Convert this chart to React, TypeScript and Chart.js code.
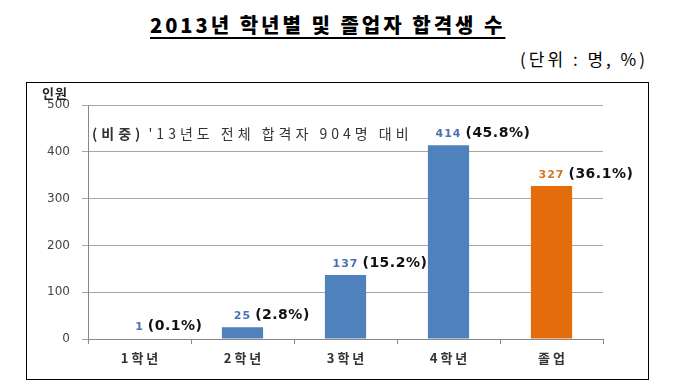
import React, { useEffect, useRef } from "react";
import { Chart, registerables } from "chart.js";

Chart.register(...registerables);

const categories = ["1학년", "2학년", "3학년", "4학년", "졸업"];
const counts = [1, 25, 137, 414, 327];
const shares = ["(0.1%)", "(2.8%)", "(15.2%)", "(45.8%)", "(36.1%)"];
const yTicks = [0, 100, 200, 300, 400, 500];
const barColors = ["#4F81BD", "#4F81BD", "#4F81BD", "#4F81BD", "#E46C0A"];
const valueColors = ["#4A72B0", "#4A72B0", "#4A72B0", "#4A72B0", "#D9731F"];
const titleText = "2013년 학년별 및 졸업자 합격생 수";
const unitText = "(단위 : 명, %)";
const yAxisTitle = "인원";
const noteBold = "(비중)";
const noteRest = " '13년도 전체 합격자 904명 대비";

const FONT = "'DejaVu Sans', 'Noto Sans CJK KR', sans-serif";
const KFONT = "'Noto Sans CJK KR', 'DejaVu Sans', sans-serif";

const labelPlugin = {
  id: "labels",
  afterDatasetsDraw(chart: any) {
    const ctx = chart.ctx;
    const meta = chart.getDatasetMeta(0);
    const area = chart.chartArea;
    const xs = chart.scales.x;
    ctx.save();
    // x category labels
    ctx.letterSpacing = "3px";
    ctx.font = `bold 13px ${KFONT}`;
    ctx.fillStyle = "#333";
    ctx.textAlign = "left";
    ctx.textBaseline = "middle";
    categories.forEach((c, i) => {
      const w = ctx.measureText(c).width - 3;
      const x = xs.getPixelForValue(i);
      ctx.fillText(c, x - w / 2, area.bottom + 19);
    });
    meta.data.forEach((bar: any, i: number) => {
      const v = String(counts[i]);
      ctx.font = `bold 11px ${FONT}`;
      ctx.letterSpacing = "1px";
      const vw = ctx.measureText(v).width;
      const y = bar.y - 12;
      ctx.fillStyle = valueColors[i];
      ctx.fillText(v, bar.x - vw / 2, y + 1);
      ctx.letterSpacing = "0.5px";
      ctx.font = `bold 14px ${FONT}`;
      ctx.fillStyle = "#111";
      ctx.fillText(shares[i], bar.x + vw / 2 + 4, y);
    });
    // axis title
    ctx.letterSpacing = "1px";
    ctx.font = `bold 13px ${KFONT}`;
    ctx.fillStyle = "#222";
    ctx.fillText(yAxisTitle, area.left - 46, area.top - 12);
    // note
    ctx.letterSpacing = "4px";
    ctx.font = `bold 14px ${KFONT}`;
    ctx.fillStyle = "#333";
    const nx = area.left + 4;
    const ny = area.top + 29;
    ctx.fillText(noteBold, nx, ny);
    const bw = ctx.measureText(noteBold).width;
    ctx.font = `14px ${KFONT}`;
    ctx.fillText(noteRest, nx + bw - 3, ny);
    ctx.restore();
  },
};

export default function App() {
  const ref = useRef<HTMLCanvasElement>(null);
  useEffect(() => {
    if (!ref.current) return;
    const chart = new Chart(ref.current, {
      type: "bar",
      data: {
        labels: categories,
        datasets: [
          {
            data: counts,
            backgroundColor: barColors,
            categoryPercentage: 1,
            barPercentage: 0.4,
          },
        ],
      },
      options: {
        animation: false,
        responsive: false,
        maintainAspectRatio: false,
        layout: { padding: { top: 22, right: 45, left: 0, bottom: 0 } },
        plugins: { legend: { display: false }, tooltip: { enabled: false } },
        scales: {
          x: {
            afterFit: (s: any) => {
              s.height = 40;
            },
            grid: {
              offset: true,
              drawOnChartArea: false,
              drawTicks: true,
              tickLength: 5,
              color: "#888",
            },
            border: { color: "#888" },
            ticks: { display: false },
          },
          y: {
            min: 0,
            max: 500,
            afterFit: (s: any) => {
              s.width = 61;
            },
            afterBuildTicks: (s: any) => {
              s.ticks = yTicks.map((v) => ({ value: v }));
            },
            grid: { color: "#A6A6A6", tickLength: 6 },
            border: { color: "#888" },
            ticks: {
              padding: 12,
              color: "#444",
              font: { family: FONT, size: 12 },
            },
          },
        },
      },
      plugins: [labelPlugin],
    } as any);
    return () => chart.destroy();
  }, []);

  return (
    <div
      style={{
        position: "fixed",
        left: 0,
        top: 0,
        width: 674,
        height: 390,
        background: "#fff",
        overflow: "hidden",
      }}
    >
      <div
        style={{
          position: "absolute",
          left: 150,
          top: 12,
          fontFamily: KFONT,
          fontWeight: 900,
          fontSize: 20,
          letterSpacing: 3,
          lineHeight: "26px",
          color: "#000",
          textDecoration: "underline",
          textUnderlineOffset: 4,
          whiteSpace: "nowrap",
        }}
      >
        {titleText}
      </div>
      <div
        style={{
          position: "absolute",
          right: 26,
          top: 48,
          fontFamily: KFONT,
          fontSize: 17,
          letterSpacing: 3,
          lineHeight: "22px",
          color: "#000",
          whiteSpace: "nowrap",
        }}
      >
        {unitText}
      </div>
      <div
        style={{
          position: "absolute",
          left: 26,
          top: 82,
          width: 621,
          height: 296,
          border: "1px solid #000",
        }}
      >
        <canvas ref={ref} width={621} height={296} style={{ display: "block", width: 621, height: 296 }} />
      </div>
    </div>
  );
}
